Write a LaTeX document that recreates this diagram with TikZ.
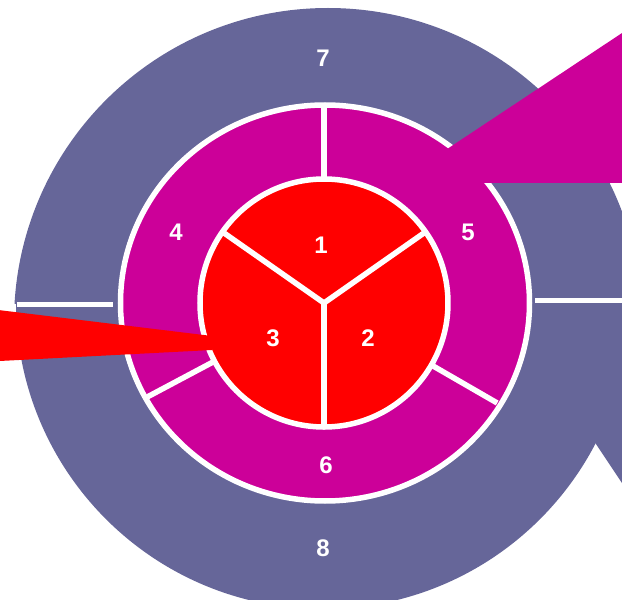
\documentclass[tikz,border=0pt]{standalone}
\usepackage{fontspec}
\setmainfont{Liberation Sans}
\definecolor{outerpurple}{HTML}{666699}
\definecolor{ringmagenta}{HTML}{CC0099}
\definecolor{corered}{HTML}{FF0000}
\tikzset{
    lbl/.style={text=white, font=\bfseries\fontsize{24}{24}\selectfont, inner sep=0pt},
    sep/.style={white, line width=5.5pt},
}
\begin{document}
\begin{tikzpicture}[x=1pt, y=1pt]
    \useasboundingbox (-324,-297) rectangle (298,303);
    \clip (-324,-297) rectangle (298,303);
    % Outer ring, upper half (7)
    \begin{scope}
        \clip (-340,0) rectangle (340,320);
        \fill[outerpurple] (4,-19) circle (314);
    \end{scope}
    % Outer ring, lower half (8) and its pointer
    \begin{scope}
        \clip (-340,0) rectangle (340,-320);
        \fill[outerpurple] (-1,1) circle (307);
    \end{scope}
    \fill[outerpurple] (200,0) -- (271.6,-140.4) -- (356,-267) -- (356,0) -- cycle;
    \draw[sep] (-307,-1.7) -- (-211,-1.7);
    \draw[sep] (211,2.3) -- (300,2.3);
    % Middle ring (4, 5, 6)
    \filldraw[fill=ringmagenta, draw=white, line width=5.5pt] (1,0) ellipse (204.5 and 198);
    \foreach \a in {90,-30,208}
        \draw[sep] (\a:124) -- (\a:200);
    % Core (1, 2, 3)
    \filldraw[fill=corered, draw=white, line width=5.5pt] (0,0) circle (124);
    \foreach \a in {145,35,270}
        \draw[sep, line cap=round] (0,0) -- (\a:124);
    % Pointers
    \fill[ringmagenta] (96,136) -- (356,308.4) -- (356,120) -- (146,120) -- cycle;
    \fill[corered] (-334,-6) -- (-112,-33) -- (-112,-47) -- (-334,-58.5) -- cycle;
    % Labels
    \node[lbl] (n1) at (-3,58) {1};
    \node[lbl] (n2) at (44,-35) {2};
    \node[lbl] (n3) at (-51,-35) {3};
    \node[lbl] (n4) at (-148,71) {4};
    \node[lbl] (n5) at (144,71) {5};
    \node[lbl] (n6) at (2,-162) {6};
    \node[lbl] (n7) at (-1,245) {7};
    \node[lbl] (n8) at (-1,-245) {8};
\end{tikzpicture}
\end{document}
